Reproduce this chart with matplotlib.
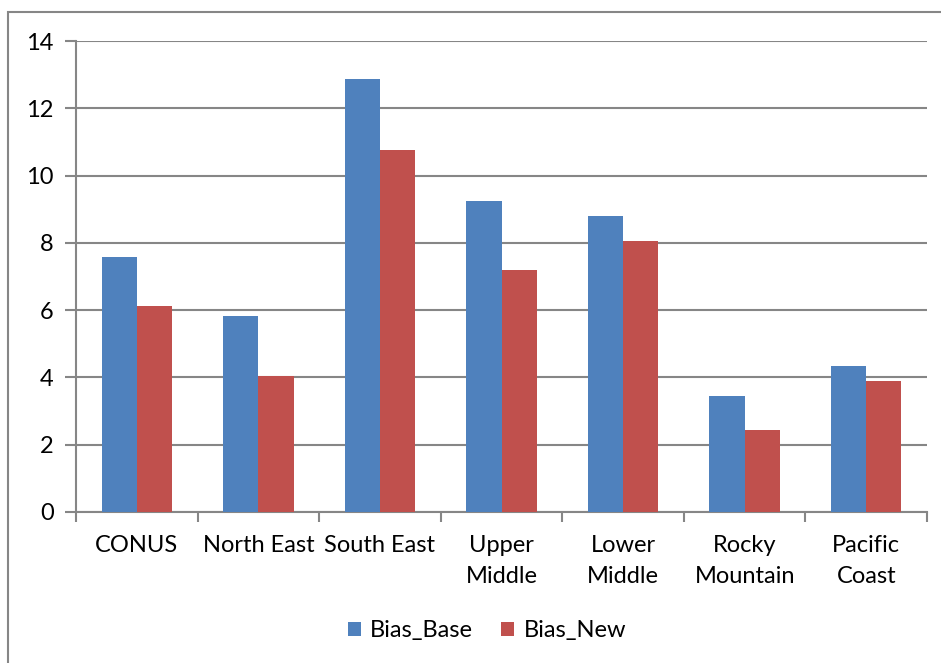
import matplotlib.pyplot as plt
import numpy as np
from matplotlib.patches import Rectangle

plt.rcParams['font.family'] = ['Lato', 'DejaVu Sans']

regions = ['CONUS', 'North East', 'South East', 'Upper\nMiddle', 'Lower\nMiddle',
           'Rocky\nMountain', 'Pacific\nCoast']
bias_base = [7.58, 5.83, 12.87, 9.24, 8.80, 3.45, 4.34]
bias_new = [6.12, 4.04, 10.76, 7.19, 8.06, 2.44, 3.89]

grey = '#868686'
fig = plt.figure(figsize=(9.41, 6.63), dpi=100)
fig.patches.append(Rectangle((8 / 941, -0.1), 1.2, (663 - 12) / 663 + 0.1,
                             transform=fig.transFigure, fill=False,
                             edgecolor=grey, linewidth=1.5))
ax = fig.add_axes([76 / 941, 1 - 512 / 663, (927 - 76) / 941, (512 - 41) / 663])

x = np.arange(len(regions))
w = 0.29
ax.bar(x - w / 2, bias_base, w, color='#4F81BD', label='Bias_Base', zorder=3)
ax.bar(x + w / 2, bias_new, w, color='#C0504D', label='Bias_New', zorder=3)

ax.set_xlim(-0.5, len(regions) - 0.5)
ax.set_ylim(0, 14)
ax.set_yticks(range(0, 15, 2))
ax.yaxis.grid(True, color=grey, linewidth=1.5, zorder=0)
ax.set_xticks(np.arange(-0.5, len(regions)), minor=False)
ax.set_xticklabels([])
ax.set_xticks(x, minor=True)
ax.set_xticklabels(regions, minor=True, fontsize=17, linespacing=1.62, va='top')
ax.tick_params(axis='x', which='minor', length=0, pad=16.5)
ax.tick_params(axis='x', which='major', length=7, color=grey, width=1.5, direction='out')
ax.tick_params(axis='y', length=8, color=grey, width=1.5, labelsize=17, pad=8)

for s in ['top', 'right']:
    ax.spines[s].set_visible(False)
for s in ['left', 'bottom']:
    ax.spines[s].set_color(grey)
    ax.spines[s].set_linewidth(1.5)

fig.legend(loc='center', bbox_to_anchor=(487 / 941, 1 - 631 / 663), ncol=2, frameon=False,
           fontsize=17, handlelength=0.55, handleheight=0.55, columnspacing=1.2,
           handletextpad=0.4)

fig.savefig('out.png', dpi=100)
